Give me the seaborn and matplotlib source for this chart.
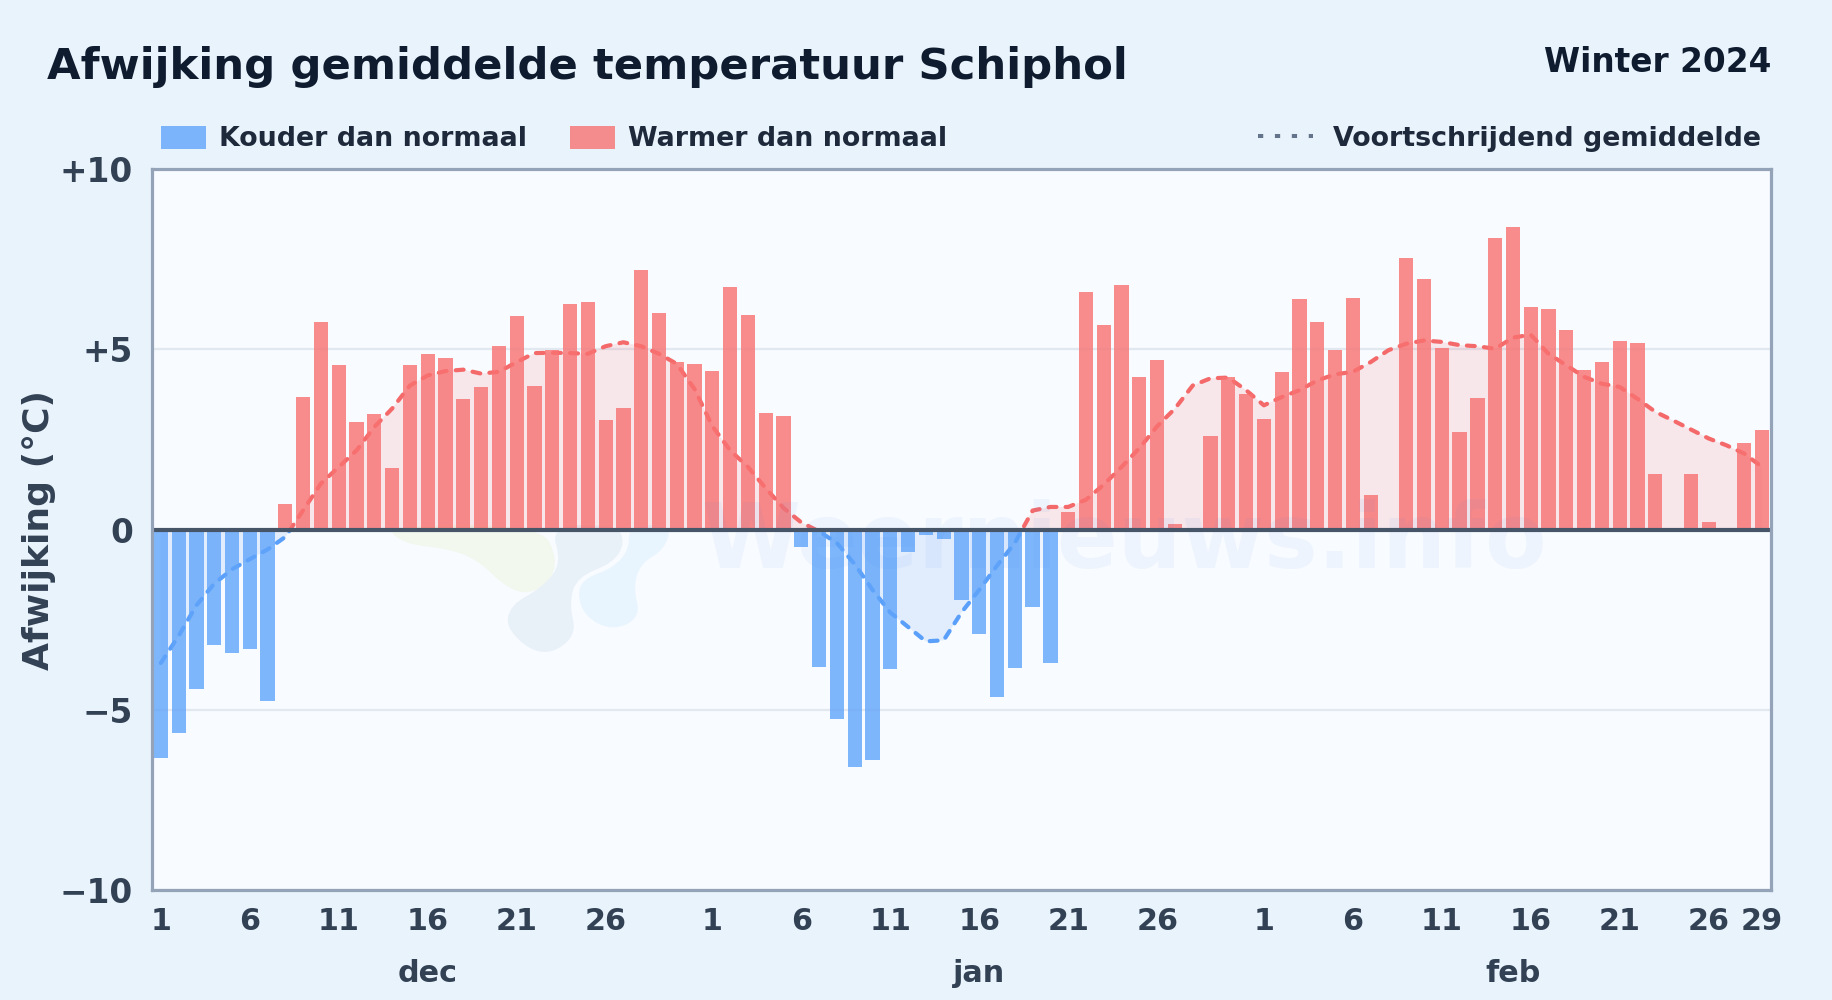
import numpy as np
import pandas as pd
import matplotlib
matplotlib.use("Agg")
import matplotlib.pyplot as plt
from matplotlib.patches import Patch, Rectangle, PathPatch
from matplotlib.path import Path
from matplotlib.lines import Line2D
from matplotlib.transforms import blended_transform_factory
import seaborn as sns

TITLE = "Afwijking gemiddelde temperatuur Schiphol"
SUBTITLE = "Winter 2024"
YLABEL = "Afwijking (°C)"
LEG_COLD = "Kouder dan normaal"
LEG_WARM = "Warmer dan normaal"
LEG_AVG = "Voortschrijdend gemiddelde"
WATERMARK = "Weernieuws.info"

dec_values = [-6.35, -5.63, -4.43, -3.2, -3.43, -3.3, -4.75, 0.7, 3.68, 5.76, 4.56, 3.0, 3.2, 1.7, 4.56, 4.88,
              4.75, 3.62, 3.95, 5.1, 5.92, 4.0, 4.98, 6.25, 6.33, 3.03, 3.38, 7.2, 6.02, 4.66, 4.6]
jan_values = [4.4, 6.73, 5.95, 3.25, 3.15, -0.47, -3.8, -5.25, -6.6, -6.4, -3.88, -0.63, -0.15, -0.27, -1.95, -2.9,
              -4.65, -3.85, -2.15, -3.7, 0.48, 6.6, 5.67, 6.8, 4.23, 4.72, 0.17, 0.0, 2.59, 4.24, 3.77]
feb_values = [3.06, 4.37, 6.39, 5.75, 4.98, 6.42, 0.95, -0.05, 7.53, 6.95, 5.03, 2.7, 3.64, 8.08, 8.39, 6.17,
              6.11, 5.53, 4.42, 4.64, 5.23, 5.17, 1.54, 0.0, 1.54, 0.2, 0.0, 2.4, 2.76]
rolling_avg = [-3.7, -2.95, -2.1, -1.5, -1.1, -0.82, -0.55, -0.2, 0.54, 1.28, 1.74, 2.2, 2.85, 3.36, 4.0, 4.28,
               4.4, 4.44, 4.33, 4.38, 4.65, 4.9, 4.91, 4.9, 4.88, 5.09, 5.2, 5.09, 4.88, 4.6, 3.9,
               2.87, 2.2, 1.74, 1.15, 0.6, 0.2, -0.05, -0.37, -0.96, -1.67, -2.3, -2.7, -3.1, -3.07, -2.3,
               -1.67, -1.0, -0.37, 0.53, 0.63, 0.63, 0.83, 1.25, 1.74, 2.26, 2.87, 3.36, 4.0, 4.2, 4.22,
               3.87, 3.45, 3.68, 3.87, 4.14, 4.31, 4.38, 4.65, 4.98, 5.16, 5.25, 5.21, 5.12, 5.09, 5.02,
               5.33, 5.41, 4.88, 4.56, 4.24, 4.05, 3.96, 3.63, 3.27, 3.03, 2.78, 2.53, 2.34, 2.11, 1.74]
x_tick_days = [1, 6, 11, 16, 21, 26, 1, 6, 11, 16, 21, 26, 1, 6, 11, 16, 21, 26, 29]
x_tick_pos = [0, 5, 10, 15, 20, 25, 31, 36, 41, 46, 51, 56, 62, 67, 72, 77, 82, 87, 90]
month_labels = ["dec", "jan", "feb"]
month_pos = [15, 46, 76]
y_ticks = [-10, -5, 0, 5, 10]
y_tick_labels = ["−10", "−5", "0", "+5", "+10"]

BG = "#e9f3fc"
PANEL = "#f8fbff"
DARK = "#1e293b"
SLATE = "#334155"
RED = "#f87171"
BLUE = "#60a5fa"
W, H = 1832, 1000

sns.set_theme(style="white")
plt.rcParams["font.family"] = ["DejaVu Sans"]
plt.rcParams["font.weight"] = "bold"

values = dec_values + jan_values + feb_values
df = pd.DataFrame({"dag": np.arange(len(values)), "afwijking": values})
df["soort"] = np.where(df["afwijking"] < 0, "koud", "warm")
avg = pd.DataFrame({"dag": np.arange(len(rolling_avg)), "gem": rolling_avg})

fig = plt.figure(figsize=(W / 100, H / 100), dpi=100, facecolor=BG)
ax = fig.add_axes([152.3 / W, 1 - 890 / H, (1771.3 - 152.3) / W, (890 - 169.3) / H], facecolor=PANEL)


def blob(points, color):
    """Faint logo shape, smooth closed outline given in picture pixels."""
    pts = np.array([(px, H - py) for px, py in points], float)
    mids = (pts + np.roll(pts, -1, axis=0)) / 2
    verts = [mids[-1]]
    codes = [Path.MOVETO]
    for p, m in zip(pts, mids):
        verts += [p, m]
        codes += [Path.CURVE3, Path.CURVE3]
    ax.add_patch(PathPatch(Path(verts, codes), transform=None, facecolor=color, lw=0, zorder=0.6))


blob([(384, 525), (403, 544), (450, 549), (479, 561), (502, 584), (525, 595), (549, 584), (558, 558), (540, 525)], "#f3f8ee")
blob([(550, 525), (562, 563), (542, 588), (510, 605), (506, 630), (542, 658), (577, 637), (569, 603), (577, 577), (613, 563), (625, 543), (617, 525)], "#e8f0f8")
blob([(629, 525), (629, 550), (613, 568), (585, 578), (577, 593), (585, 617), (613, 631), (641, 617), (633, 587), (641, 563), (664, 550), (672, 525)], "#e9f5fe")

ax.text(0.6, 0.482, WATERMARK, transform=ax.transAxes, ha="center", va="center", fontsize=64.5,
        color="#3b82f6", alpha=0.055, zorder=4.5)

sns.barplot(data=df, x="dag", y="afwijking", hue="soort", palette={"koud": BLUE, "warm": RED},
            native_scale=True, dodge=False, width=0.8, alpha=0.8, saturation=1, linewidth=0, legend=False,
            ax=ax, zorder=3)

x = avg["dag"].to_numpy(float)
y = avg["gem"].to_numpy(float)
ax.fill_between(x, y, 0, where=y >= 0, interpolate=True, color="#ef4444", alpha=0.11, lw=0, zorder=2)
ax.fill_between(x, y, 0, where=y <= 0, interpolate=True, color="#3b82f6", alpha=0.12, lw=0, zorder=2)

for color, y0, y1 in [("#f46a6a", 0, 10), ("#5a9ff9", -10, 0)]:
    sns.lineplot(data=avg, x="dag", y="gem", ax=ax, color=color, linewidth=3.0, zorder=2.5, legend=False,
                 errorbar=None)
    line = ax.lines[-1]
    line.set_linestyle((0, (1.9, 2.2)))
    line.set_dash_capstyle("round")
    line.set_clip_path(Rectangle((-1, y0), 93, y1 - y0, transform=ax.transData))

ax.axhline(0, color="#475569", lw=3.0, zorder=5)

ax.set_xlim(-0.48, 90.52)
ax.set_ylim(-10, 10)
ax.set_xticks(x_tick_pos)
ax.set_xticklabels(x_tick_days)
ax.set_yticks(y_ticks)
ax.set_yticklabels(y_tick_labels)
ax.tick_params(axis="x", length=0, pad=12.5, labelsize=21.8, labelcolor=SLATE)
ax.tick_params(axis="y", length=0, pad=14, labelsize=23.6, labelcolor=SLATE)
ax.grid(axis="y", color="#e2e8f0", lw=1.6, zorder=1)
ax.set_axisbelow(True)
ax.set_xlabel("")
ax.set_ylabel("")
for s in ax.spines.values():
    s.set_color("#94a3b8")
    s.set_linewidth(2.3)
    s.set_zorder(6)

trans = blended_transform_factory(ax.transData, fig.transFigure)
for lab, pos in zip(month_labels, month_pos):
    ax.text(pos, 1 - 974 / H, lab, transform=trans, ha="center", va="center", fontsize=21.8, color=SLATE)

fig.text(47 / W, 1 - 67.5 / H, TITLE, ha="left", va="center", fontsize=31.2, color="#0f1c30")
fig.text(1771 / W, 1 - 62 / H, SUBTITLE, ha="right", va="center", fontsize=23.6, color="#0f1c30")
fig.text(39 / W, 1 - 530 / H, YLABEL, rotation=90, ha="center", va="center", fontsize=26, color=SLATE)

leg_kw = dict(frameon=False, fontsize=19.4, labelcolor=DARK, borderpad=0, borderaxespad=0, handleheight=0.95)
leg1 = fig.legend(handles=[Patch(color=BLUE, alpha=0.8, lw=0, label=LEG_COLD),
                           Patch(color=RED, alpha=0.8, lw=0, label=LEG_WARM)],
                  loc="center left", bbox_to_anchor=(161 / W, 1 - 139 / H), ncol=2,
                  handlelength=1.66, handletextpad=0.475, columnspacing=1.62, **leg_kw)
leg2 = fig.legend(handles=[Line2D([], [], color="#64748b", lw=2.9, linestyle=(0, (1.3, 2.9)), label=LEG_AVG)],
                  loc="center right", bbox_to_anchor=(1761 / W, 1 - 139 / H),
                  handlelength=2.02, handletextpad=0.75, **leg_kw)

fig.savefig("out.png", dpi=100, facecolor=BG)
